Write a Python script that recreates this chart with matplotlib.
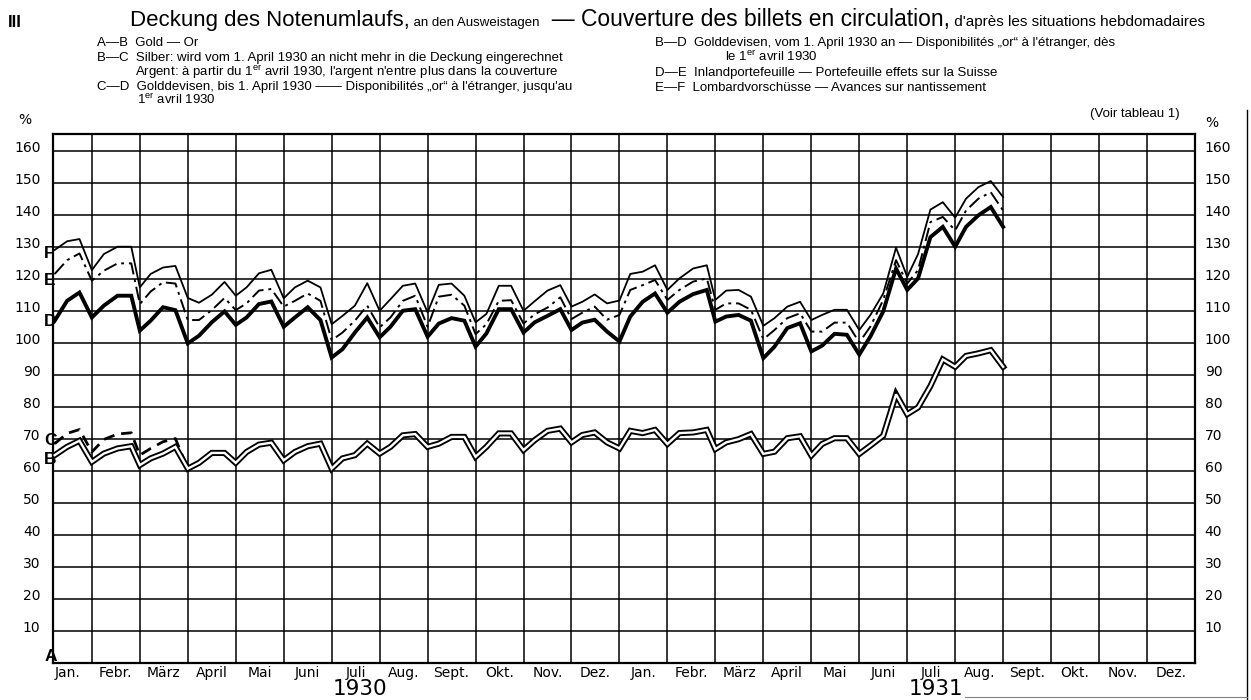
import numpy as np
import pandas as pd
import matplotlib
matplotlib.use("Agg")
import matplotlib.pyplot as plt
from matplotlib import transforms
from matplotlib.lines import Line2D

plt.rcParams['font.family'] = ['Liberation Sans', 'DejaVu Sans']

# Ausweistage: 7., 15., 23. und Monatsende, Jan. 1930 - Aug. 1931
monate = pd.period_range('1930-01', '1931-08', freq='M')
ausweis_tage = [7, 15, 23, None]   # None = Monatsende

# A-B Gold (%)
gold_B = [64.9, 67.5, 69.4, 62.8,  65.4, 67.0, 67.7, 61.8,  63.9, 65.4, 67.5, 60.7,
          62.5, 65.6, 65.6, 62.5,  65.9, 68.2, 68.8, 63.3,  65.9, 67.7, 68.5, 60.7,
          63.9, 64.9, 68.5, 65.4,  67.5, 71.1, 71.5, 67.5,  68.5, 70.6, 70.6, 64.4,
          67.5, 71.7, 71.7, 66.5,  69.6, 72.5, 73.2, 68.9,  71.2, 72.0, 68.9, 67.0,
          72.5, 71.8, 72.8, 68.4,  71.8, 72.0, 72.8, 66.8,  68.9, 69.9, 71.5, 65.3,
          66.0, 70.2, 70.8, 64.8,  68.4, 70.2, 70.2, 65.3,  67.9, 71.0, 83.9, 77.7,
          79.8, 86.5, 94.8, 92.5,  95.9, 96.7, 97.7, 92.5]
# B-C Silber, nur bis 1. April 1930
silber_C = [68.5, 71.7, 72.9, 65.9,  69.8, 71.5, 71.9, 64.9,  67.0, 69.1, 70.1, 60.7]
# C-D / B-D Golddevisen
devisen_D = [106.9, 113.1, 115.7, 107.9,  111.6, 114.7, 114.7, 103.8,  106.9, 111.1, 110.2, 99.8,
             102.2, 106.4, 109.8, 105.6,  107.9, 112.1, 112.9, 105.0,  107.9, 111.1, 107.1, 95.4,
             98.0, 103.2, 107.9, 101.7,  105.0, 110.0, 110.5, 101.9,  106.0, 107.7, 106.9, 98.8,
             102.9, 110.5, 110.5, 103.2,  106.4, 108.4, 110.5, 104.0,  106.3, 107.2, 103.5, 100.4,
             108.2, 112.8, 115.4, 109.4,  112.8, 115.2, 116.5, 106.6,  108.2, 108.7, 106.9, 95.2,
             98.8, 104.6, 106.1, 97.3,  99.1, 102.8, 102.5, 96.3,  102.0, 109.8, 123.2, 116.5,
             120.1, 133.0, 136.2, 130.0,  136.2, 139.8, 142.4, 136.2]
# D-E Inlandportefeuille
inland_E = [121.5, 125.8, 127.9, 119.4,  122.5, 124.8, 124.8, 112.1,  116.0, 118.9, 118.5, 107.1,
            107.1, 110.2, 114.0, 110.2,  112.3, 116.3, 116.8, 111.3,  113.1, 115.4, 113.1, 100.8,
            103.2, 106.9, 111.6, 104.8,  107.9, 113.1, 114.7, 105.0,  114.4, 115.0, 111.6, 102.7,
            105.8, 113.1, 113.3, 106.0,  108.9, 111.0, 114.2, 107.4,  109.4, 111.3, 107.2, 108.7,
            116.5, 118.0, 119.6, 113.4,  116.5, 119.1, 120.1, 110.3,  112.3, 112.3, 110.3, 101.1,
            104.0, 107.7, 109.2, 103.5,  103.5, 106.3, 106.3, 100.1,  105.1, 113.4, 125.8, 118.5,
            122.7, 137.7, 139.3, 135.1,  141.3, 145.0, 147.0, 141.3]
# E-F Lombardvorschüsse
lombard_F = [129.0, 131.7, 132.4, 122.7,  127.7, 130.0, 130.0, 117.3,  121.5, 123.5, 124.0, 114.0,
             112.5, 115.0, 119.0, 114.7,  117.3, 121.7, 122.8, 113.9,  117.3, 119.4, 117.3, 105.8,
             108.4, 111.6, 118.6, 110.0,  113.6, 117.8, 118.5, 109.5,  118.1, 118.5, 114.7, 106.4,
             109.0, 117.8, 117.8, 110.0,  113.0, 116.3, 118.0, 111.3,  112.8, 115.1, 112.3, 113.2,
             121.5, 122.2, 124.2, 116.5,  120.1, 123.2, 124.2, 113.4,  116.3, 116.5, 114.4, 105.3,
             107.7, 111.3, 112.8, 107.1,  108.7, 110.3, 110.3, 104.0,  108.7, 115.4, 129.7, 120.6,
             127.7, 141.6, 143.9, 139.1,  145.0, 148.6, 150.5, 145.5]

monat_namen = ['Jan.', 'Febr.', 'März', 'April', 'Mai', 'Juni',
               'Juli', 'Aug.', 'Sept.', 'Okt.', 'Nov.', 'Dez.']
jahre = ['1930', '1931']

# x in Monaten ab 1. Jan. 1930
x = []
for i, p in enumerate(monate):
    for d in ausweis_tage:
        tag = p.days_in_month if d is None else d
        x.append(i + tag / p.days_in_month)
x = np.array(x)

fig = plt.figure(figsize=(12.51, 7), dpi=100)
W, H = 1251, 700
ax = fig.add_axes([53 / W, 1 - 663 / H, (1195 - 53) / W, (663 - 134) / H])

ax.plot(x, gold_B, color='black', lw=4.4, solid_joinstyle='miter', zorder=3)
ax.plot(x, gold_B, color='white', lw=1.7, solid_joinstyle='miter', zorder=4)
ax.plot(x[:len(silber_C)], silber_C, color='black', lw=2.0, dashes=(4, 2.5), zorder=3)
ax.plot(x, devisen_D, color='black', lw=2.8, solid_joinstyle='miter', zorder=3)
ax.plot(x, inland_E, color='black', lw=1.4, dashes=(7, 2.5, 1.5, 2.5), zorder=3)
ax.plot(x, lombard_F, color='black', lw=1.3, zorder=3)

ax.set_xlim(0.19, 24)
ax.set_ylim(0, 165.2)

ax.set_xticks(np.arange(1, 24))
ax.set_xticklabels([])
ax.set_xticks(np.arange(24) + 0.5, minor=True)
ax.set_xticklabels(monat_namen * 2, minor=True, family='DejaVu Sans', fontsize=10)
ax.set_yticks(np.arange(10, 161, 10))
ax.set_yticklabels([str(v) for v in range(10, 161, 10)], family='DejaVu Sans', fontsize=10)
ax.tick_params(which='both', length=0)
ax.tick_params(axis='x', which='minor', pad=2)
ax.tick_params(axis='y', pad=7, labelright=True)
ax.grid(True, which='major', color='black', lw=1.1)
ax.set_axisbelow(True)
for s in ax.spines.values():
    s.set_linewidth(1.6)

# Zahlen etwas über der Linie, links etwas weiter weg
hoch = transforms.ScaledTranslation(0, 3 / 72, fig.dpi_scale_trans)
links = transforms.ScaledTranslation(-2 / 72, 3 / 72, fig.dpi_scale_trans)
for tick in ax.yaxis.get_major_ticks():
    tick.label1.set_transform(tick.label1.get_transform() + links)
    tick.label2.set_transform(tick.label2.get_transform() + hoch)

# Buchstaben am linken Rand
for buchst, yv in [('F', 128.0), ('E', 119.5), ('D', 106.5), ('C', 69.5), ('B', 63.5), ('A', 2)]:
    ax.text(0.005, yv, buchst, ha='left', va='center', fontsize=12.5,
            fontweight='bold', clip_on=False)

ax.text(-0.4, 167.3, '%', ha='center', va='bottom', fontsize=10, family='DejaVu Sans', clip_on=False)
ax.text(24.35, 166.3, '%', ha='center', va='bottom', fontsize=10, family='DejaVu Sans', clip_on=False)

# Jahreszahlen
for j, jahr in enumerate(jahre):
    ax.text(j * 12 + 6.6, -8.2, jahr, ha='center', va='center', fontsize=15.5,
            family='DejaVu Sans', clip_on=False)

# Titelzeile
def px(xp, yp):
    return xp / W, 1 - yp / H

fig.text(*px(8, 27), 'III', fontsize=12, fontweight='bold', va='baseline')
teile = [('Deckung des Notenumlaufs,', 16), (' an den Ausweistagen', 9.5),
         ('  — Couverture des billets en circulation,', 16.5),
         (' d\'après les situations hebdomadaires', 11)]
renderer = fig.canvas.get_renderer()
xpos = 130
for txt, fs in teile:
    t = fig.text(*px(xpos, 26), txt, fontsize=fs, va='baseline')
    xpos = t.get_window_extent(renderer).x1

er = r'$^{\mathregular{er}}$'
legende_links = [
    (97, 46, 'A—B  Gold — Or'),
    (97, 61, 'B—C  Silber: wird vom 1. April 1930 an nicht mehr in die Deckung eingerechnet'),
    (135, 76, 'Argent: à partir du 1' + er + ' avril 1930, l\'argent n\'entre plus dans la couverture'),
    (97, 90, 'C—D  Golddevisen, bis 1. April 1930 —— Disponibilités „or“ à l\'étranger, jusqu\'au'),
    (137, 104, '1' + er + ' avril 1930'),
]
legende_rechts = [
    (655, 46, 'B—D  Golddevisen, vom 1. April 1930 an — Disponibilités „or“ à l\'étranger, dès'),
    (725, 61, 'le 1' + er + ' avril 1930'),
    (655, 76, 'D—E  Inlandportefeuille — Portefeuille effets sur la Suisse'),
    (655, 91, 'E—F  Lombardvorschüsse — Avances sur nantissement'),
]
for xp, yp, txt in legende_links + legende_rechts:
    fig.text(*px(xp, yp), txt, fontsize=9.5, va='baseline')
fig.text(*px(1180, 117), '(Voir tableau 1)', fontsize=9.5, va='baseline', ha='right')

# Seitenrand
fig.add_artist(Line2D([1247 / W, 1247 / W], [0, 1 - 110 / H], color='black', lw=1))
fig.add_artist(Line2D([965 / W, 1247 / W], [1 - 697 / H, 1 - 697 / H], color='0.5', lw=0.8))

fig.savefig('out.png', dpi=100)
